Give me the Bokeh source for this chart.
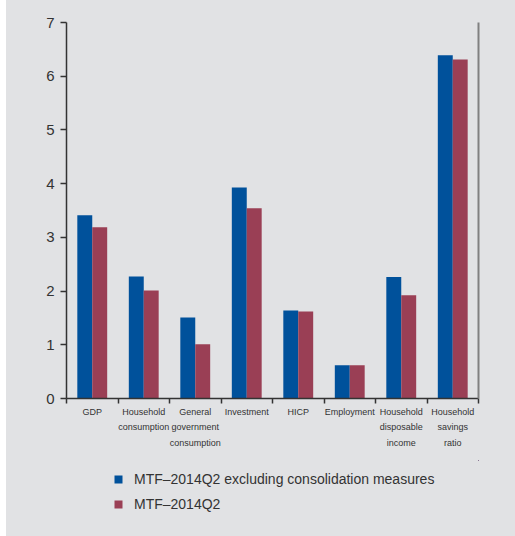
from bokeh.plotting import figure
from bokeh.models import (ColumnDataSource, FixedTicker, LinearAxis, Legend,
                          LegendItem, Range1d, Spacer)
from bokeh.layouts import row, column
from bokeh.transform import dodge
from bokeh.embed import file_html
from bokeh.resources import INLINE

# Annual average growth rates / ratio, 2014-2016
categories = ["GDP", "Household\nconsumption", "General\ngovernment\nconsumption",
              "Investment", "HICP", "Employment", "Household\ndisposable\nincome",
              "Household\nsavings\nratio"]
excl_consolidation = [3.41, 2.27, 1.51, 3.93, 1.64, 0.62, 2.26, 6.39]
mtf_2014q2 = [3.19, 2.01, 1.01, 3.54, 1.62, 0.62, 1.92, 6.31]
series_names = ["MTF\u20132014Q2 excluding consolidation measures", "MTF\u20132014Q2"]
y_ticks = [0, 1, 2, 3, 4, 5, 6, 7]

BG = "#e1e2e4"
BLUE = "#00519b"
RED = "#9a3f55"
INK = "#333333"
W = 509
H_CHART = 460
H_KEY = 536 - H_CHART

centers = [i + 0.5 for i in range(len(categories))]
source = ColumnDataSource(dict(x=centers, excl=excl_consolidation, mtf=mtf_2014q2))

p = figure(width=W, height=H_CHART, output_backend="svg", toolbar_location=None,
           x_range=Range1d(0, len(categories)), y_range=Range1d(0, 7),
           min_border_left=60, min_border_right=37, min_border_top=22,
           min_border_bottom=H_CHART - 22 - 376,
           x_axis_location=None, y_axis_location=None)
p.background_fill_color = None
p.border_fill_color = BG
p.outline_line_color = None
p.grid.visible = False

bar_w = 0.29
bar_style = dict(width=bar_w, bottom=0, line_color=None)


def draw_bars(fig):
    a = fig.vbar(x=dodge("x", -bar_w / 2, range=fig.x_range), top="excl",
                 source=source, fill_color=BLUE, **bar_style)
    b = fig.vbar(x=dodge("x", bar_w / 2, range=fig.x_range), top="mtf",
                 source=source, fill_color=RED, **bar_style)
    return a, b


draw_bars(p)

# category axis: labels at the centres, ticks at the boundaries
xaxis = LinearAxis(ticker=FixedTicker(ticks=centers,
                                      minor_ticks=list(range(len(categories) + 1))))
xaxis.major_label_overrides = {c: lab for c, lab in zip(centers, categories)}
xaxis.major_tick_out = 0
xaxis.major_tick_in = 0
xaxis.minor_tick_out = 5
xaxis.minor_tick_in = 0
xaxis.minor_tick_line_color = INK
xaxis.minor_tick_line_width = 1.5
xaxis.axis_line_color = INK
xaxis.axis_line_width = 1.5
xaxis.major_label_standoff = 3
xaxis.major_label_text_font = "Liberation Sans"
xaxis.major_label_text_font_size = "9px"
xaxis.major_label_text_line_height = 1.55
xaxis.major_label_text_color = INK
p.add_layout(xaxis, "below")

yaxis = LinearAxis(ticker=FixedTicker(ticks=y_ticks))
yaxis.major_tick_out = 6
yaxis.major_tick_in = 0
yaxis.minor_tick_line_color = None
yaxis.major_tick_line_color = INK
yaxis.major_tick_line_width = 1.5
yaxis.axis_line_color = INK
yaxis.axis_line_width = 1.5
yaxis.major_label_standoff = 6
yaxis.major_label_text_font = "Liberation Sans"
yaxis.major_label_text_font_size = "15px"
yaxis.major_label_text_color = INK
p.add_layout(yaxis, "left")

raxis = LinearAxis(ticker=FixedTicker(ticks=[]))
raxis.axis_line_color = "#808080"
raxis.axis_line_width = 2
raxis.major_label_text_font_size = "0px"
raxis.major_tick_line_color = None
raxis.minor_tick_line_color = None
p.add_layout(raxis, "right")

# key panel under the chart; its view is set far away from the bars,
# so only their swatches appear, in the legend
key = figure(width=W, height=H_KEY, output_backend="svg", toolbar_location=None,
             x_range=Range1d(-100, -99), y_range=Range1d(-100, -99),
             min_border=0, x_axis_location=None, y_axis_location=None)
key.background_fill_color = None
key.border_fill_color = BG
key.outline_line_color = None
key.grid.visible = False
k1, k2 = draw_bars(key)

legend = Legend(items=[LegendItem(label=series_names[0], renderers=[k1]),
                       LegendItem(label=series_names[1], renderers=[k2])],
                location=(47, 23), orientation="vertical")
legend.glyph_width = 10
legend.glyph_height = 10
legend.label_height = 18
legend.spacing = 7
legend.padding = 0
legend.margin = 0
legend.label_standoff = 11
legend.border_line_color = None
legend.background_fill_alpha = 0
legend.label_text_font = "Liberation Sans"
legend.label_text_font_size = "14px"
legend.label_text_color = INK
key.add_layout(legend, "center")

layout = row(Spacer(width=6, height=536),
             column(p, key, spacing=0, styles={"background-color": BG}),
             spacing=0)

open("out.html", "w").write(file_html(layout, INLINE))
